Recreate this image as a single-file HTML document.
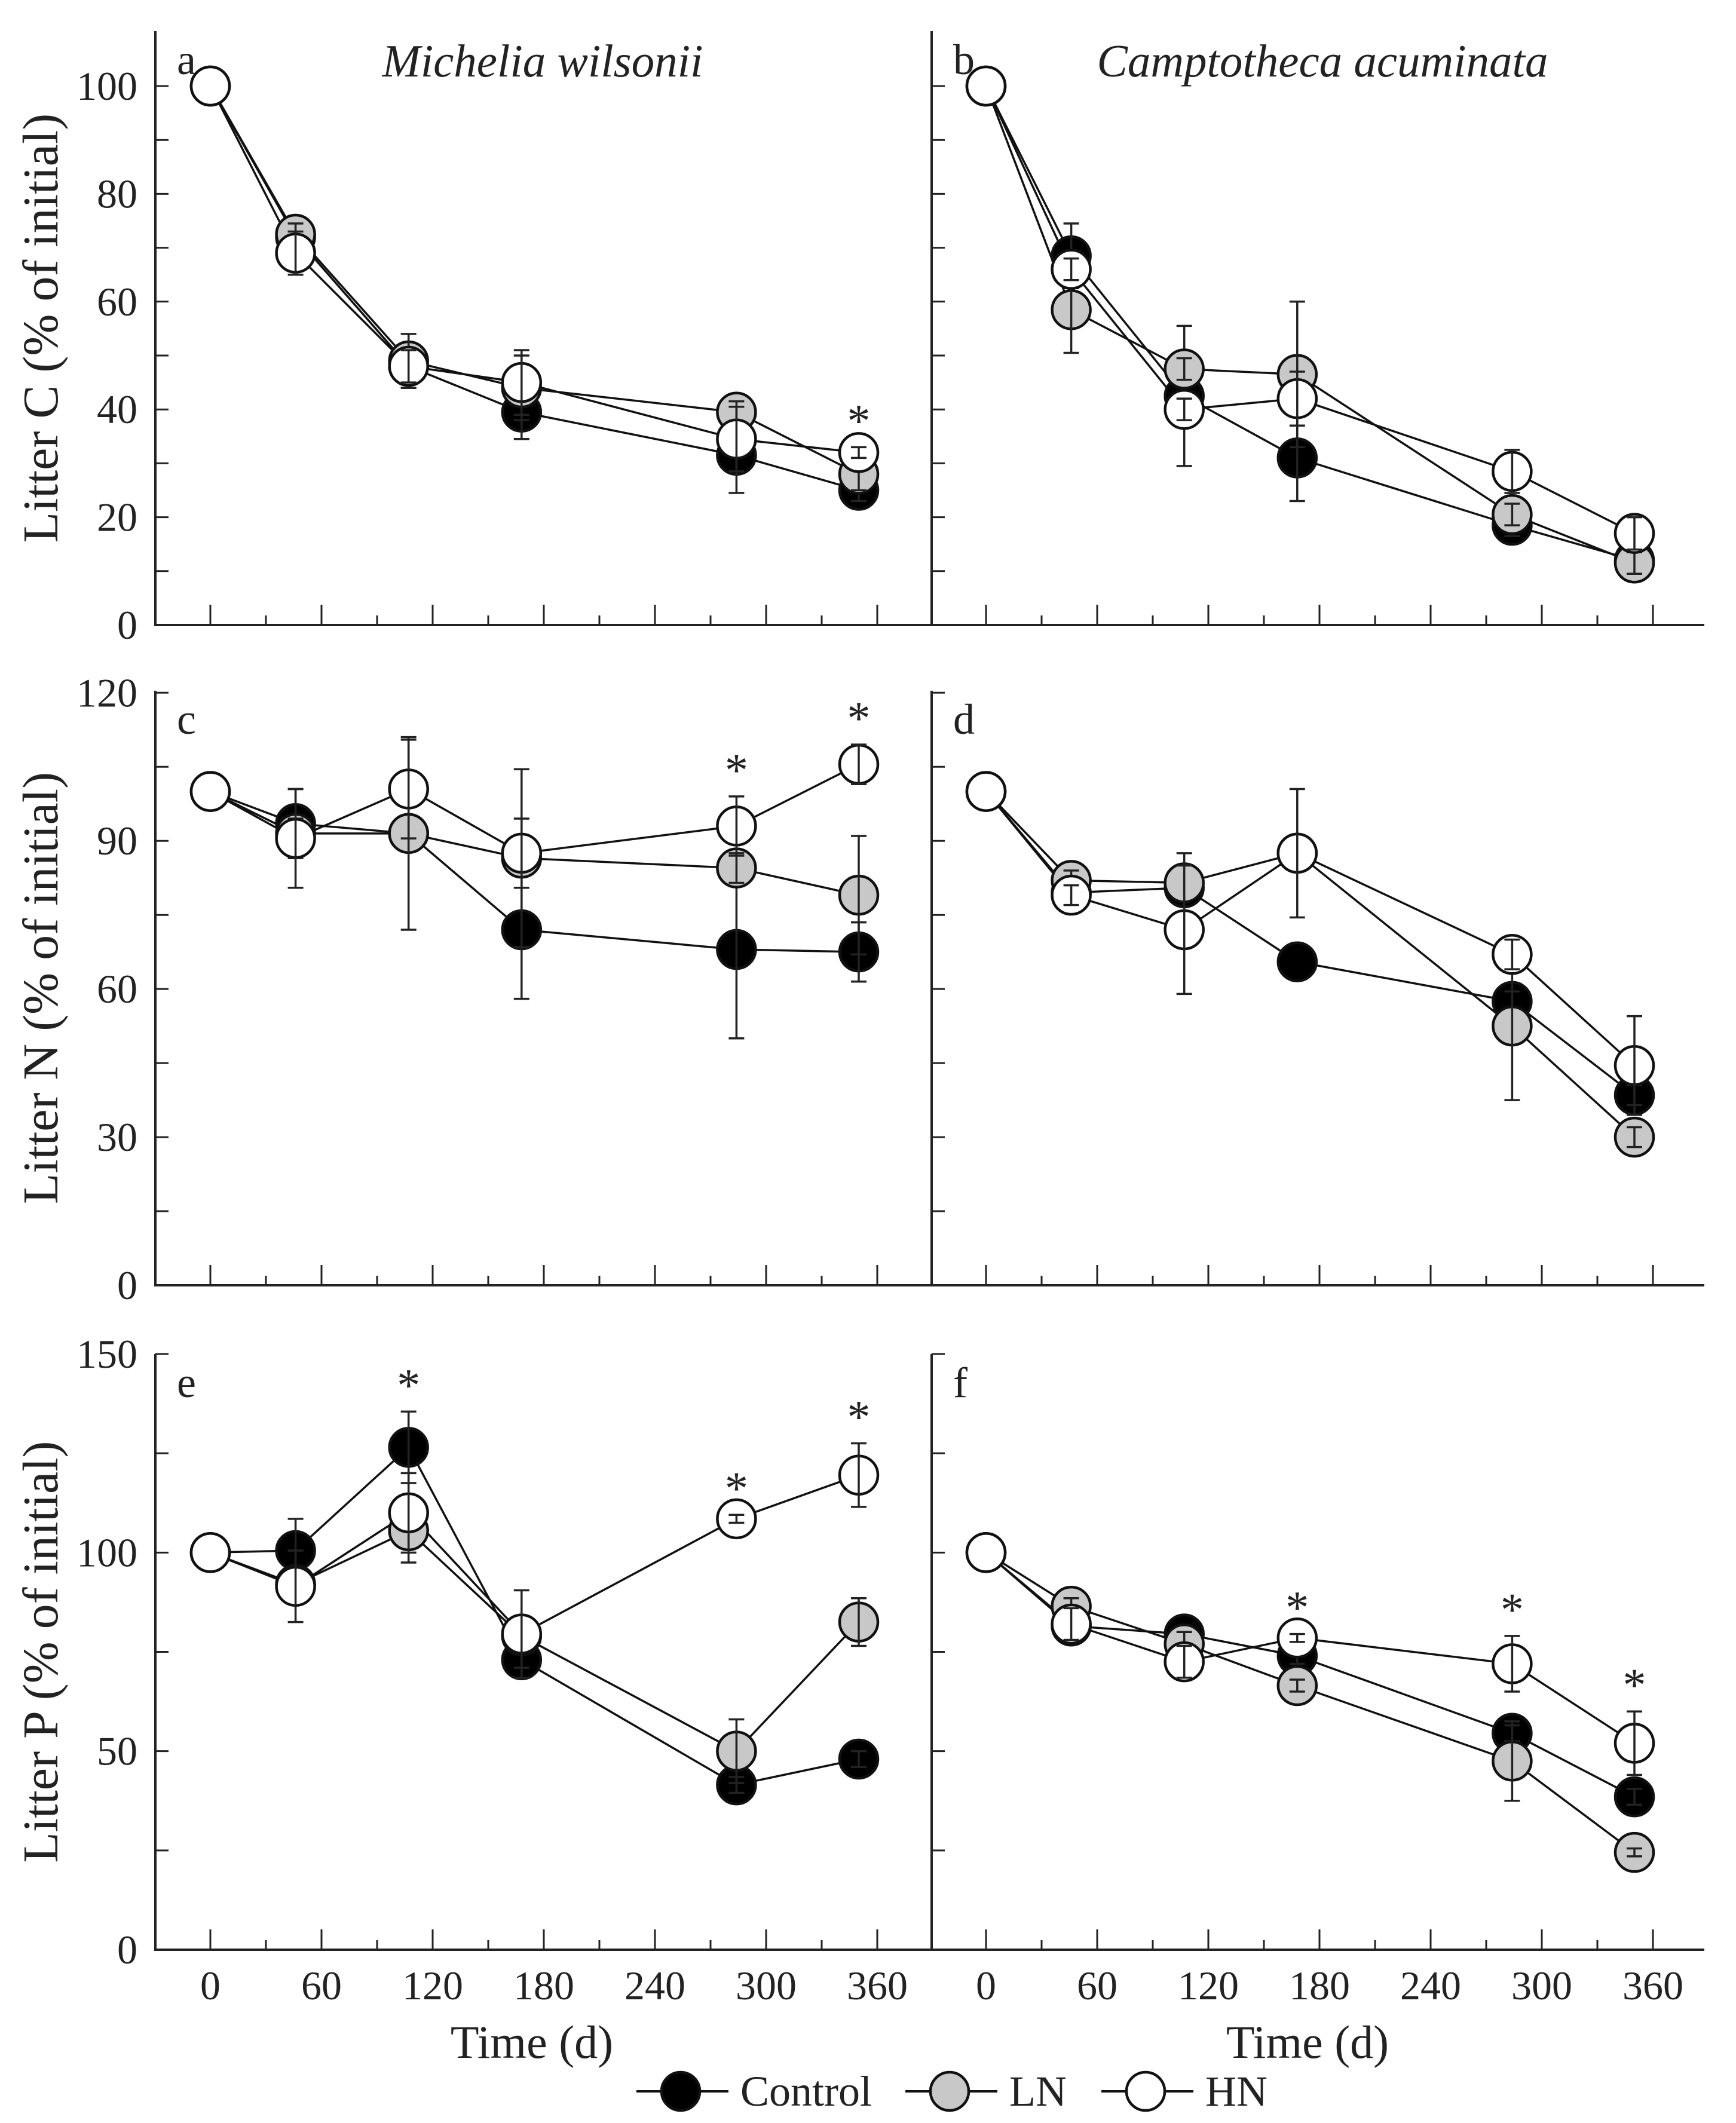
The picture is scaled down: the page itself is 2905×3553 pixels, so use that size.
<!DOCTYPE html>
<html><head><meta charset="utf-8">
<style>
html,body{margin:0;padding:0;background:#fff;}
svg{display:block;font-family:"Liberation Serif",serif;}
</style></head>
<body>
<svg id="fig" width="2905" height="3553" viewBox="0 0 2905 3553" xmlns="http://www.w3.org/2000/svg"></svg>
<script>
const days = [0, 46, 107, 168, 284, 350];
const xTickLabels = [0, 60, 120, 180, 240, 300, 360];
const seriesNames = ["Control", "LN", "HN"];
// panel a: Litter C, Michelia wilsonii
const aControl = [100, 72, 48, 39.5, 31.5, 25];
const aLN = [100, 72.5, 49, 44, 39.5, 28];
const aHN = [100, 69, 48, 45, 34.5, 32];
const aErrControl = [0, 3, 4, 5, 7, 2];
const aErrLN = [0, 2, 5, 6, 2, 3];
const aErrHN = [0, 4, 3, 6, 6, 1];
// panel b: Litter C, Camptotheca acuminata
const bControl = [100, 68.5, 42.5, 31, 18.5, 12];
const bLN = [100, 58.5, 47.5, 46.5, 20.5, 11.5];
const bHN = [100, 66, 40, 42, 28.5, 17];
const bErrControl = [0, 6, 13, 8, 2, 1];
const bErrLN = [0, 8, 2, 13.5, 2, 2];
const bErrHN = [0, 2, 2, 5, 4, 3];
// panel c: Litter N, Michelia wilsonii
const cControl = [100, 93.5, 91.5, 72, 68, 67.5];
const cLN = [100, 91.5, 91.5, 86.5, 84.5, 79];
const cHN = [100, 90.5, 100.5, 87.5, 93, 105.5];
const cErrControl = [0, 7, 3, 14, 18, 6];
const cErrLN = [0, 3, 19.5, 18, 3, 12];
const cErrHN = [0, 10, 10, 7, 6, 4];
// panel d: Litter N, Camptotheca acuminata
const dControl = [100, 79.5, 80.5, 65.5, 57.5, 38.5];
const dLN = [100, 82, 81.5, 87.5, 52.5, 30];
const dHN = [100, 79, 72, 87.5, 67, 44.5];
const dErrControl = [0, 2, 2, 0, 2, 2];
const dErrLN = [0, 2, 6, 3, 15, 2];
const dErrHN = [0, 2, 13, 13, 3, 10];
// panel e: Litter P, Michelia wilsonii
const eControl = [100, 100.5, 126.5, 73, 41.5, 48];
const eLN = [100, 92, 105.5, 79, 50, 82.5];
const eHN = [100, 91.5, 110, 79.5, 108.5, 119.5];
const eErrControl = [0, 8, 9, 2, 2, 2];
const eErrLN = [0, 3, 8, 3, 8, 6];
const eErrHN = [0, 9, 10, 11, 1, 8];
// panel f: Litter P, Camptotheca acuminata
const fControl = [100, 81.5, 79.5, 74, 54.5, 38.5];
const fLN = [100, 86.5, 77, 66.5, 47.5, 24.5];
const fHN = [100, 82, 72.5, 78.5, 72, 52];
const fErrControl = [0, 2, 2, 2, 2, 2];
const fErrLN = [0, 2, 3, 1.5, 10, 1];
const fErrHN = [0, 4, 4, 1, 7, 8];
// significance marks (days)
const aStars = [350];
const bStars = [];
const cStars = [284, 350];
const dStars = [];
const eStars = [107, 284, 350];
const fStars = [168, 284, 350];
const cTicks = [0, 20, 40, 60, 80, 100];
const nTicks = [0, 30, 60, 90, 120];
const pTicks = [0, 50, 100, 150];

const NS = "http://www.w3.org/2000/svg";
const svg = document.getElementById("fig");
function mk(tag, attrs, parent, text) {
  const e = document.createElementNS(NS, tag);
  for (const k in attrs) e.setAttribute(k, attrs[k]);
  if (text !== undefined) e.textContent = text;
  (parent || svg).appendChild(e);
  return e;
}
const fills = ["#000", "#c8c8c8", "#fff"];
const R = 32;

const cols = [
  {left: 260, right: 1559, x0: 352, x360: 1468},
  {left: 1559, right: 2852, x0: 1650, x360: 2766}
];
const rows = [
  {top: 52, bottom: 1046, vmax: 110.2, ticks: cTicks, minor: 10, label: "Litter C (% of initial)"},
  {top: 1156, bottom: 2151, vmax: 120.4, ticks: nTicks, minor: 15, label: "Litter N (% of initial)"},
  {top: 2266, bottom: 3263, vmax: 150, ticks: pTicks, minor: 25, label: "Litter P (% of initial)"}
];
const panels = [
  {id: "a", r: 0, c: 0, s: [aControl, aLN, aHN], e: [aErrControl, aErrLN, aErrHN], st: aStars},
  {id: "b", r: 0, c: 1, s: [bControl, bLN, bHN], e: [bErrControl, bErrLN, bErrHN], st: bStars},
  {id: "c", r: 1, c: 0, s: [cControl, cLN, cHN], e: [cErrControl, cErrLN, cErrHN], st: cStars},
  {id: "d", r: 1, c: 1, s: [dControl, dLN, dHN], e: [dErrControl, dErrLN, dErrHN], st: dStars},
  {id: "e", r: 2, c: 0, s: [eControl, eLN, eHN], e: [eErrControl, eErrLN, eErrHN], st: eStars},
  {id: "f", r: 2, c: 1, s: [fControl, fLN, fHN], e: [fErrControl, fErrLN, fErrHN], st: fStars}
];

panels.forEach(p => {
  const col = cols[p.c], row = rows[p.r];
  const x = d => col.x0 + (col.x360 - col.x0) * d / 360;
  const y = v => row.bottom - (row.bottom - row.top) * v / row.vmax;
  const g = mk("g", {});
  
  
  const ax = mk("path", {d: `M${col.left},${row.top} V${row.bottom} H${col.right}`, fill: "none", stroke: "#222", "stroke-width": 4}, g);
  
  
  for (let d = 0; d <= 360; d += 30) {
    const major = d % 60 === 0;
    const t = mk("line", {x1: x(d), x2: x(d), y1: row.bottom, y2: row.bottom - (major ? 34 : 16), stroke: "#222", "stroke-width": 3}, g);
    
    
  }
  const top = row.ticks[row.ticks.length - 1];
  for (let v = 0; v <= top + 0.01; v += row.minor) {
    const t = mk("line", {x1: col.left, x2: col.left + 22, y1: y(v), y2: y(v), stroke: "#222", "stroke-width": 3}, g);
    
    
  }
  if (p.c === 0) {
    row.ticks.forEach(v => {
      const t = mk("text", {x: 230, y: y(v) + 23, "text-anchor": "end", "font-size": 68, fill: "#222"}, g, String(v));
      
      
    });
    const cy = (row.top + row.bottom) / 2;
    const yl = mk("text", {x: 0, y: 0, transform: `translate(96,${cy}) rotate(-90)`, "text-anchor": "middle", "font-size": 84, fill: "#222"}, g, row.label);
    
    
  }
  if (p.r === 2) {
    xTickLabels.forEach(d => {
      const t = mk("text", {x: x(d), y: 3346, "text-anchor": "middle", "font-size": 68, fill: "#222"}, g, String(d));
      
      
    });
    const xt = mk("text", {x: (col.x0 + col.x360) / 2 - 20, y: 3444, "text-anchor": "middle", "font-size": 78, fill: "#222"}, g, "Time (d)");
    
    
  }
  const pl = mk("text", {x: col.left + 36, y: row.top + 72, "font-size": 72, fill: "#222"}, g, p.id);
  
  
  p.s.forEach((vals, si) => {
    const pts = vals.map((v, i) => `${x(days[i])},${y(v)}`).join(" ");
    const ln = mk("polyline", {points: pts, fill: "none", stroke: "#111", "stroke-width": 3.5}, g);
    
    
  });
  p.s.forEach((vals, si) => {
    vals.forEach((v, i) => {
      const m = mk("circle", {cx: x(days[i]), cy: y(v), r: R, fill: fills[si], stroke: "#111", "stroke-width": 4.5}, g);
      
      
      const err = p.e[si][i];
      if (err > 0) {
        const cx = x(days[i]), y1 = y(v - err), y2 = y(v + err);
        const eb = mk("path", {d: `M${cx},${y1} V${y2} M${cx - 13},${y1} H${cx + 13} M${cx - 13},${y2} H${cx + 13}`, stroke: "#222", "stroke-width": 3.5, fill: "none"}, g);
        
        
      }
    });
  });
  p.st.forEach(d => {
    const i = days.indexOf(d);
    let mx = 0;
    p.s.forEach((vals, si) => { mx = Math.max(mx, vals[i] + p.e[si][i]); });
    const s = mk("text", {x: x(d), y: y(mx) - 18, "text-anchor": "middle", "font-size": 78, fill: "#222"}, g, "*");
    
    
  });
});

const t1 = mk("text", {x: 908, y: 128, "text-anchor": "middle", "font-size": 77, "font-style": "italic", fill: "#222"}, svg, "Michelia wilsonii");


const t2 = mk("text", {x: 2213, y: 128, "text-anchor": "middle", "font-size": 77, "font-style": "italic", fill: "#222"}, svg, "Camptotheca acuminata");



const legend = mk("g", {});


const legX = [1139, 1589, 1917];
seriesNames.forEach((n, i) => {
  const lx = legX[i];
  const ln = mk("line", {x1: lx - 74, x2: lx + 80, y1: 3500, y2: 3500, stroke: "#111", "stroke-width": 4}, legend);
  
  
  const c = mk("circle", {cx: lx, cy: 3500, r: R, fill: fills[i], stroke: "#111", "stroke-width": 4.5}, legend);
  
  
  const t = mk("text", {x: lx + 100, y: 3524, "font-size": 72, fill: "#222"}, legend, n);
  
  
});
</script>
</body></html>
